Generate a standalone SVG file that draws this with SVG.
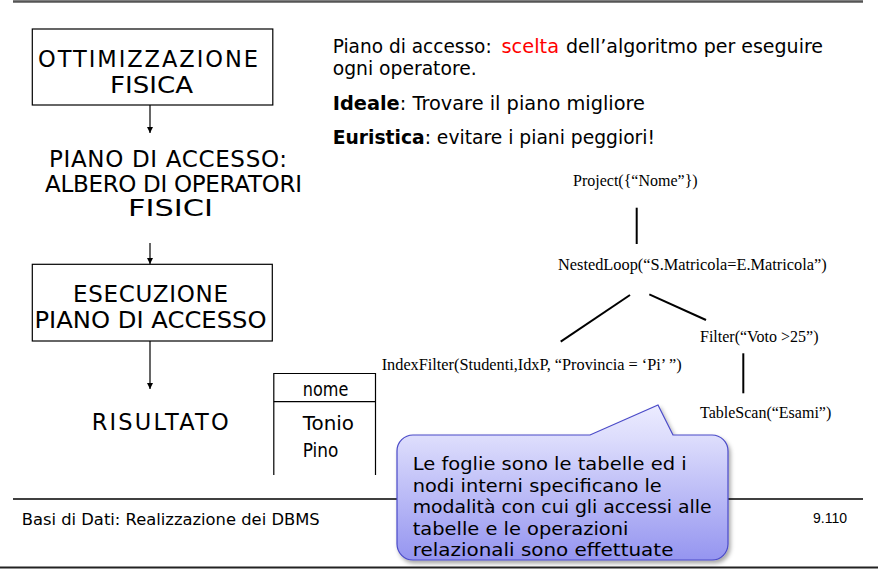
<svg xmlns="http://www.w3.org/2000/svg" width="878" height="569" viewBox="0 0 878 569">
<style>
  .hand { font-family: "DejaVu Sans", "Liberation Sans", sans-serif; fill: #000; }
  .tree { font-family: "Liberation Serif", "Times New Roman", serif; font-size: 16px; fill: #000; }
  .box { fill: #fff; stroke: #000; stroke-width: 1.2; }
  .arrow { stroke: #000; stroke-width: 1.2; fill: none; }
  .edge { stroke: #000; stroke-width: 2; fill: none; }
  .rule { stroke: #000; stroke-width: 1.5; }
  .red { fill: #ff0000; }
  .b { font-weight: bold; }
</style>
<defs>
  <marker id="ah" markerUnits="userSpaceOnUse" markerWidth="7" markerHeight="7" refX="6" refY="3" orient="auto">
    <path d="M0,0 L6,3 L0,6 Z" fill="#000"/>
  </marker>
  <linearGradient id="cg" x1="0" y1="0" x2="0" y2="1">
    <stop offset="0" stop-color="#ececff"/>
    <stop offset="0.22" stop-color="#dcdcfc"/>
    <stop offset="1" stop-color="#9595f0"/>
  </linearGradient>
  <filter id="sh" x="-10%" y="-10%" width="130%" height="130%">
    <feDropShadow dx="2" dy="3" stdDeviation="2" flood-color="#000" flood-opacity="0.35"/>
  </filter>
</defs>
<rect x="0" y="0" width="878" height="569" fill="#fff"/>

<g id="slide-rules">
  <line x1="13" y1="1.5" x2="863" y2="1.5" stroke="#555" stroke-width="2.5"/>
  <line class="rule" x1="13" y1="499" x2="863" y2="499"/>
  <line x1="0" y1="567.5" x2="878" y2="567.5" stroke="#222" stroke-width="2"/>
</g>

<g id="connectors">
  <line class="arrow" x1="150" y1="105" x2="150" y2="133" marker-end="url(#ah)"/>
  <line class="arrow" x1="150" y1="243" x2="150" y2="264" marker-end="url(#ah)"/>
  <line class="arrow" x1="150" y1="341" x2="150" y2="389" marker-end="url(#ah)"/>
  <line class="edge" x1="636.7" y1="207.7" x2="636.7" y2="244"/>
  <line class="edge" x1="630" y1="295" x2="560.7" y2="341.7"/>
  <line class="edge" x1="649.3" y1="294.3" x2="706" y2="320"/>
  <line class="edge" x1="743.3" y1="353.3" x2="743.3" y2="393.3"/>
</g>

<g id="ottimizzazione">
  <rect class="box" x="32.3" y="29" width="240.5" height="76"/>
  <text class="hand" x="38" y="67" font-size="22.5" textLength="220" lengthAdjust="spacing">OTTIMIZZAZIONE</text>
  <text class="hand" x="110" y="93" font-size="23" textLength="83" lengthAdjust="spacingAndGlyphs">FISICA</text>
</g>

<g id="piano-accesso">
  <text class="hand" x="49" y="167" font-size="23" textLength="238" lengthAdjust="spacing">PIANO DI ACCESSO:</text>
  <text class="hand" x="45" y="192" font-size="23" textLength="257" lengthAdjust="spacing">ALBERO DI OPERATORI</text>
  <text class="hand" x="128" y="215.5" font-size="23" textLength="85" lengthAdjust="spacingAndGlyphs">FISICI</text>
</g>

<g id="esecuzione">
  <rect class="box" x="32.3" y="264.3" width="240" height="76.7"/>
  <text class="hand" x="73" y="302" font-size="23" textLength="155" lengthAdjust="spacing">ESECUZIONE</text>
  <text class="hand" x="34.5" y="327.5" font-size="23" textLength="232" lengthAdjust="spacingAndGlyphs">PIANO DI ACCESSO</text>
</g>

<g id="risultato">
  <text class="hand" x="91.7" y="430" font-size="22.5" textLength="137" lengthAdjust="spacing">RISULTATO</text>
</g>

<g id="tabella-risultato">
  <polyline points="273.8,475 273.8,373.5 375.5,373.5 375.5,475" fill="none" stroke="#000" stroke-width="1.2"/>
  <line x1="273.8" y1="401.7" x2="375.5" y2="401.7" stroke="#000" stroke-width="1.2"/>
  <text class="hand" x="302.7" y="396" font-size="20" textLength="45.6" lengthAdjust="spacingAndGlyphs">nome</text>
  <text class="hand" x="302.7" y="430" font-size="20" textLength="51.3" lengthAdjust="spacingAndGlyphs">Tonio</text>
  <text class="hand" x="302.7" y="457" font-size="20" textLength="35.6" lengthAdjust="spacingAndGlyphs">Pino</text>
</g>

<g id="descrizione">
  <text class="hand" x="332.7" y="53" font-size="20" textLength="159" lengthAdjust="spacingAndGlyphs">Piano di accesso:</text>
  <text class="hand red" x="501.5" y="53" font-size="20" textLength="57.5" lengthAdjust="spacingAndGlyphs">scelta</text>
  <text class="hand" x="566" y="53" font-size="20" textLength="257" lengthAdjust="spacingAndGlyphs">dell’algoritmo per eseguire</text>
  <text class="hand" x="332.7" y="75" font-size="20" textLength="144" lengthAdjust="spacingAndGlyphs">ogni operatore.</text>
  <text class="hand" x="332.7" y="110" font-size="20" textLength="312.3" lengthAdjust="spacingAndGlyphs"><tspan class="b">Ideale</tspan>: Trovare il piano migliore</text>
  <text class="hand" x="332.7" y="144.3" font-size="20" textLength="322.3" lengthAdjust="spacingAndGlyphs"><tspan class="b">Euristica</tspan>: evitare i piani peggiori!</text>
</g>

<g id="project">
  <text class="tree" x="573" y="186">Project({“Nome”})</text>
</g>
<g id="nestedloop">
  <text class="tree" x="558" y="270" textLength="268.7" lengthAdjust="spacingAndGlyphs">NestedLoop(“S.Matricola=E.Matricola”)</text>
</g>
<g id="filter">
  <text class="tree" x="700" y="341.5">Filter(“Voto &gt;25”)</text>
</g>
<g id="indexfilter">
  <text class="tree" x="381.7" y="370" textLength="300" lengthAdjust="spacingAndGlyphs">IndexFilter(Studenti,IdxP, “Provincia = ‘Pi’ ”)</text>
</g>
<g id="tablescan">
  <text class="tree" x="700" y="418">TableScan(“Esami”)</text>
</g>

<g id="footer">
  <text class="hand" x="21.7" y="525" font-size="16.5" textLength="298" lengthAdjust="spacingAndGlyphs">Basi di Dati: Realizzazione dei DBMS</text>
  <text x="813" y="523" font-family="Liberation Sans, Arial, sans-serif" font-size="14" fill="#000">9.110</text>
</g>

<g id="callout">
  <path d="M 413,435 L 590,435 L 658,405 L 673,435 L 712,435 A 16 16 0 0 1 728,451 L 728,544 A 16 16 0 0 1 712,560 L 413,560 A 16 16 0 0 1 397,544 L 397,451 A 16 16 0 0 1 413,435 Z" fill="url(#cg)" stroke="#4a4ac8" stroke-width="1.2" filter="url(#sh)"/>
  <text class="hand" x="412.7" y="470" font-size="18.5" textLength="274" lengthAdjust="spacingAndGlyphs">Le foglie sono le tabelle ed i</text>
  <text class="hand" x="412.7" y="491.5" font-size="18.5" textLength="249" lengthAdjust="spacingAndGlyphs">nodi interni specificano le</text>
  <text class="hand" x="412.7" y="513" font-size="18.5" textLength="299" lengthAdjust="spacingAndGlyphs">modalità con cui gli accessi alle</text>
  <text class="hand" x="412.7" y="534.5" font-size="18.5" textLength="215.7" lengthAdjust="spacingAndGlyphs">tabelle e le operazioni</text>
  <text class="hand" x="412.7" y="556" font-size="18.5" textLength="260.7" lengthAdjust="spacingAndGlyphs">relazionali sono effettuate</text>
</g>
</svg>
